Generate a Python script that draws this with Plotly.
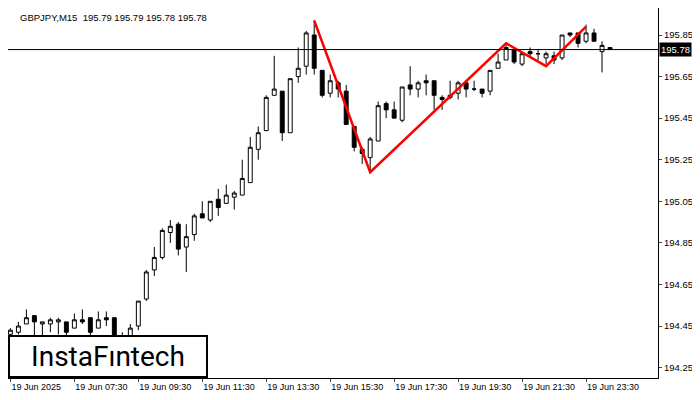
import plotly.graph_objects as go

opens = [194.41, 194.42, 194.46, 194.50, 194.46, 194.46, 194.47, 194.47, 194.44, 194.48,
         194.49, 194.44, 194.49, 194.49, 194.39, 194.39, 194.45, 194.58, 194.72, 194.78,
         194.90, 194.94, 194.83, 194.89, 194.99, 194.96, 195.06, 195.04, 195.07, 195.08,
         195.14, 195.30, 195.39, 195.56, 195.58, 195.38, 195.65, 195.70, 195.85, 195.68,
         195.57, 195.62, 195.58, 195.41, 195.30, 195.26, 195.34, 195.52, 195.49, 195.44,
         195.61, 195.59, 195.63, 195.63, 195.55, 195.55, 195.57, 195.62, 195.59, 195.59,
         195.58, 195.69, 195.73, 195.78, 195.71, 195.77, 195.76, 195.74, 195.75, 195.74,
         195.86, 195.86, 195.82, 195.86, 195.77, 195.79]
highs = [194.44, 194.47, 194.53, 194.50, 194.47, 194.49, 194.49, 194.47, 194.51, 194.53,
         194.49, 194.52, 194.52, 194.49, 194.42, 194.46, 194.57, 194.72, 194.83, 194.92,
         194.96, 194.95, 194.94, 194.99, 195.05, 195.05, 195.11, 195.13, 195.10, 195.25,
         195.36, 195.41, 195.56, 195.75, 195.58, 195.64, 195.79, 195.87, 195.92, 195.68,
         195.66, 195.63, 195.61, 195.41, 195.31, 195.36, 195.53, 195.53, 195.53, 195.60,
         195.70, 195.63, 195.66, 195.63, 195.56, 195.63, 195.63, 195.63, 195.63, 195.59,
         195.68, 195.76, 195.81, 195.78, 195.77, 195.79, 195.78, 195.77, 195.77, 195.85,
         195.86, 195.86, 195.90, 195.88, 195.82, 195.79]
lows = [194.40, 194.41, 194.46, 194.40, 194.40, 194.42, 194.41, 194.40, 194.44, 194.46,
        194.40, 194.44, 194.45, 194.37, 194.37, 194.37, 194.43, 194.57, 194.69, 194.77,
        194.85, 194.79, 194.71, 194.86, 194.97, 194.95, 194.98, 195.04, 195.01, 195.08,
        195.14, 195.25, 195.39, 195.56, 195.34, 195.38, 195.62, 195.66, 195.66, 195.55,
        195.55, 195.55, 195.42, 195.29, 195.23, 195.19, 195.34, 195.45, 195.45, 195.43,
        195.56, 195.55, 195.56, 195.49, 195.49, 195.54, 195.54, 195.55, 195.58, 195.55,
        195.56, 195.69, 195.73, 195.71, 195.70, 195.74, 195.73, 195.71, 195.71, 195.73,
        195.84, 195.79, 195.81, 195.82, 195.67, 195.78]
closes = [194.43, 194.45, 194.49, 194.47, 194.47, 194.48, 194.48, 194.42, 194.48, 194.47,
          194.42, 194.48, 194.48, 194.38, 194.40, 194.44, 194.57, 194.71, 194.78, 194.91,
          194.93, 194.82, 194.88, 194.98, 194.97, 195.05, 195.02, 195.08, 195.09, 195.16,
          195.31, 195.38, 195.55, 195.59, 195.38, 195.64, 195.69, 195.86, 195.69, 195.56,
          195.63, 195.59, 195.42, 195.31, 195.28, 195.35, 195.51, 195.49, 195.45, 195.60,
          195.59, 195.62, 195.62, 195.56, 195.54, 195.56, 195.62, 195.59, 195.59, 195.57,
          195.68, 195.72, 195.79, 195.72, 195.76, 195.76, 195.76, 195.76, 195.73, 195.85,
          195.85, 195.81, 195.86, 195.82, 195.80, 195.78]

# pattern points (candle index, price)
pat_idx = [38, 45, 62, 67, 72]
pat_price = [195.92, 195.19, 195.81, 195.70, 195.89]

tick_labels = ["19 Jun 2025", "19 Jun 07:30", "19 Jun 09:30", "19 Jun 11:30", "19 Jun 13:30",
               "19 Jun 15:30", "19 Jun 17:30", "19 Jun 19:30", "19 Jun 21:30", "19 Jun 23:30"]
price_ticks = [194.25, 194.45, 194.65, 194.85, 195.05, 195.25, 195.45, 195.65, 195.85]
last_price = 195.78

idx = list(range(len(opens)))

fig = go.Figure()
fig.add_trace(go.Candlestick(
    x=idx, open=opens, high=highs, low=lows, close=closes,
    increasing=dict(fillcolor="white", line=dict(color="black", width=1)),
    decreasing=dict(fillcolor="black", line=dict(color="black", width=1)),
    whiskerwidth=0, hoverinfo="skip",
))
fig.add_trace(go.Scatter(x=pat_idx, y=pat_price, mode="lines",
                         line=dict(color="#ff0000", width=2.5), hoverinfo="skip"))

fig.add_hline(y=last_price, line=dict(color="black", width=1))

fig.update_layout(
    width=692, height=392,
    margin=dict(l=0, r=42, t=0, b=22, autoexpand=False),
    paper_bgcolor="white", plot_bgcolor="white",
    showlegend=False,
    font=dict(family="Liberation Sans", size=9, color="black"),
    annotations=[
        dict(text="GBPJPY,M15  195.79 195.79 195.78 195.78", x=0.015, y=0.995,
             xref="paper", yref="paper", xanchor="left", yanchor="top",
             showarrow=False, font=dict(size=9.5)),
        dict(text=f"{last_price:.2f}", x=1.0, y=last_price, xref="paper", yref="y",
             xanchor="left", yanchor="middle", showarrow=False, bgcolor="black",
             font=dict(color="white", size=9.5), borderpad=1, xshift=1),
        dict(text="InstaFıntech", x=0.0, y=0.0, xref="paper", yref="paper",
             xanchor="left", yanchor="bottom", showarrow=False,
             bgcolor="white", bordercolor="black", borderwidth=2, borderpad=3,
             font=dict(family="Roboto", size=28, color="black"), width=190),
    ],
)
fig.update_xaxes(
    range=[-0.3, 81.0], rangeslider_visible=False,
    tickvals=idx[::8], ticktext=tick_labels, ticks="outside", ticklen=3,
    ticklabelposition="outside right", tickangle=0, tickfont=dict(size=9),
    showgrid=False, showline=True, linecolor="black", linewidth=1, mirror=True,
    zeroline=False,
)
fig.update_yaxes(
    range=[194.20, 195.98], side="right", tickvals=price_ticks,
    ticktext=[f"{p:.2f}" for p in price_ticks], ticks="outside", ticklen=3,
    tickfont=dict(size=9.5),
    showgrid=False, showline=True, linecolor="black", linewidth=1, mirror=True,
    zeroline=False,
)

fig.write_html("out.html")
